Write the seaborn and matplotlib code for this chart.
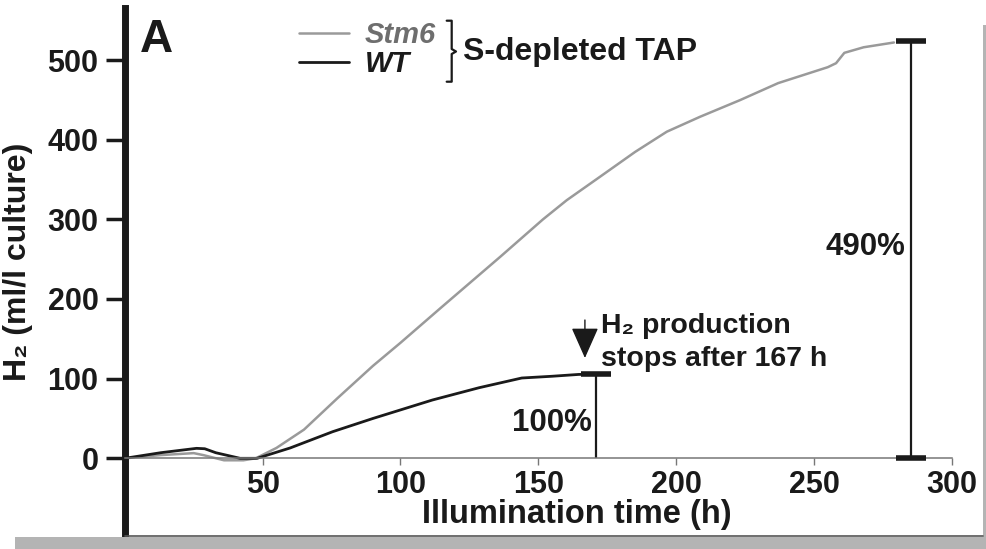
import numpy as np
import pandas as pd
import matplotlib.pyplot as plt
import seaborn as sns
from matplotlib.lines import Line2D
from matplotlib.patches import Rectangle

# values
stm6_time = [0, 13, 25, 28.5, 36, 43, 47.5, 55, 65, 77, 90, 100, 115, 136.2, 151.7,
             160.3, 172.4, 185.1, 196.6, 208.7, 223.2, 237, 255, 258, 261, 268, 279]
stm6_h2 = [0, 4, 6.5, 4, -2.5, -2.5, 0, 13, 36, 75, 116, 145, 190, 253, 300,
           324, 353.5, 384.6, 410, 428.8, 449.7, 471, 491, 496, 509, 516, 522]

wt_time = [0, 13, 26, 29, 33, 41.8, 48, 60, 75.4, 90, 111.6, 128.5, 144, 155,
           164.7, 170.5]
wt_h2 = [0, 7, 12.5, 12, 7, 0, 0, 13, 33.4, 50, 73.2, 88.6, 100.8, 103, 105.3, 105.4]

wt_stop, wt_final = 170.9, 105.4
stm6_stop, stm6_final = 285.2, 524
arrow_x, arrow_from, arrow_to = 166.9, 173.6, 125.9

x_ticks = [50, 100, 150, 200, 250, 300]
y_ticks = [0, 100, 200, 300, 400, 500]

sns.set_theme(style="white")
plt.rcParams["font.family"] = ["Liberation Sans", "DejaVu Sans"]
plt.rcParams["font.weight"] = "bold"
ink = "#1a1a1a"

fig = plt.figure(figsize=(9.87, 5.49), dpi=100)
ax = fig.add_axes([124.8 / 987, 12 / 549, (983 - 124.8) / 987, 529 / 549])

sns.lineplot(x=stm6_time, y=stm6_h2, ax=ax, color="#9a9a9a", lw=1.8, label="Stm6")
sns.lineplot(x=wt_time, y=wt_h2, ax=ax, color=ink, lw=2.0, label="WT")

ax.set_xlim(0, 311.3)
ax.set_ylim(-98.8, 565.3)

# x axis sits on y = 0
ax.spines["bottom"].set_position(("data", 0))
ax.spines["bottom"].set_bounds(0, 300)
ax.spines["bottom"].set_color("#777777")
ax.spines["bottom"].set_linewidth(1.1)
ax.spines["left"].set_color(ink)
ax.spines["left"].set_linewidth(5)
for s in ["top", "right"]:
    ax.spines[s].set_visible(False)

ax.set_xticks(x_ticks)
ax.set_yticks(y_ticks)
ax.tick_params(axis="x", direction="out", length=5, width=1, color="#777777",
               labelsize=22, labelcolor=ink, pad=3.5, bottom=True)
ax.tick_params(axis="y", direction="out", length=13.5, width=2.5, color=ink,
               labelsize=22, labelcolor=ink, pad=5.5, left=True)
for lab in ax.get_xticklabels() + ax.get_yticklabels():
    lab.set_fontweight("bold")

ax.set_xlabel("Illumination time (h)", fontsize=23.5, fontweight="bold", color=ink)
ax.xaxis.set_label_coords((577 - 124.8) / 858.2, (537 - 499) / 529)
ax.set_ylabel("H₂ (ml/l culture)", fontsize=23, fontweight="bold", color=ink)
ax.yaxis.set_label_coords((33 - 124.8) / 858.2, (537 - 262) / 529)

# end-point bars
ax.vlines(wt_stop, 0, wt_final, color=ink, lw=1.6)
ax.plot([wt_stop], [wt_final], marker="_", ms=22, mew=4, color=ink, zorder=3)
ax.vlines(stm6_stop, 0, stm6_final, color=ink, lw=1.6)
ax.plot([stm6_stop, stm6_stop], [0, stm6_final], ls="none", marker="_", ms=22,
        mew=4, color=ink, zorder=3)

ax.text(169.4, 34.6, "100%", fontsize=22.5, fontweight="bold", color=ink, ha="right")
ax.text(283, 254.6, "490%", fontsize=22.5, fontweight="bold", color=ink, ha="right")

ax.annotate("", xy=(arrow_x, arrow_to), xytext=(arrow_x, arrow_from),
            arrowprops=dict(arrowstyle="-|>,head_length=0.97,head_width=0.43",
                            mutation_scale=20, color=ink, lw=1, shrinkA=0, shrinkB=0))
ax.text(172.6, 156.9, "H₂ production", fontsize=20.5, fontweight="bold", color=ink)
ax.text(172.6, 115.9, "stops after 167 h", fontsize=20.5, fontweight="bold", color=ink)

ax.text(5.6, 510.4, "A", fontsize=33, fontweight="bold", color=ink)

# legend
leg = ax.legend(loc="upper left", bbox_to_anchor=((299 - 124.8) / 858.2, (537 - 21) / 529),
                frameon=False, borderpad=0, borderaxespad=0, handlelength=1.7,
                handletextpad=0.55, labelspacing=0.05,
                prop={"weight": "bold", "style": "italic", "size": 21})
leg.get_texts()[0].set_color("#6e6e6e")
leg.get_texts()[1].set_color(ink)

# bracket and medium label
brace = [(446.7, 20.7), (451.7, 20.7), (451.7, 49), (456, 51.5), (451.7, 54),
         (451.7, 81.7), (446.7, 81.7)]
fig.add_artist(Line2D([p[0] / 987 for p in brace], [1 - p[1] / 549 for p in brace],
                      color=ink, lw=1.6))
ax.text(122.8, 500, "S-depleted TAP", fontsize=23, fontweight="bold", color=ink)

# panel frame and shadow
fig.add_artist(Line2D([125 / 987, 983 / 987], [1 - 535.5 / 549] * 2, color="#555555", lw=1.2))
fig.add_artist(Rectangle((15 / 987, 0), (987 - 15) / 987, 12 / 549, color="#b4b4b4", lw=0))
fig.add_artist(Rectangle((983 / 987, 0), 4 / 987, (549 - 25) / 549, color="#b4b4b4", lw=0))

fig.savefig("out.png", dpi=100)
